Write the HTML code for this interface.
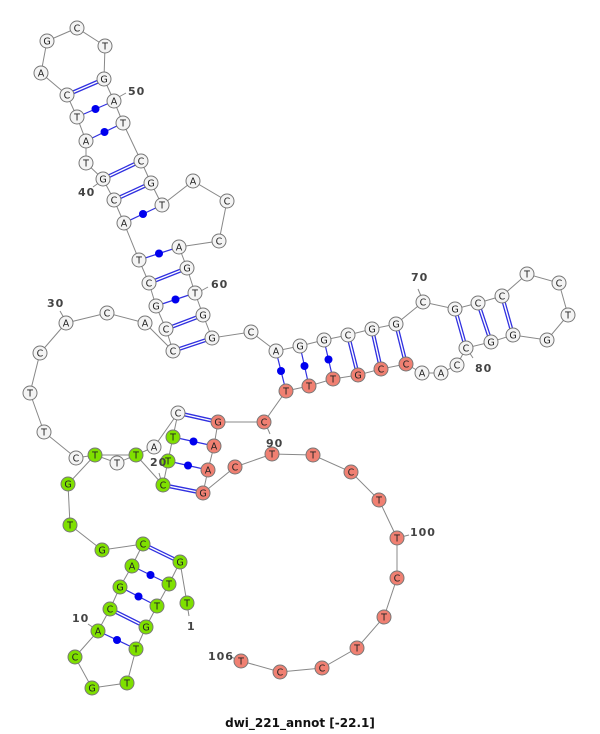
<!DOCTYPE html>
<html><head><meta charset="utf-8"><style>
html,body{margin:0;padding:0;background:#fff;}
svg{display:block;}
text{font-family:"DejaVu Sans","Liberation Sans",sans-serif;}
.n{font-size:9.5px;text-anchor:middle;fill:#222;}
.l{font-family:"Liberation Serif",serif;font-size:11px;font-weight:bold;fill:#444;letter-spacing:1px;}
</style></head><body>
<svg width="600" height="734" viewBox="0 0 600 734" xmlns="http://www.w3.org/2000/svg">
<g stroke="#888" stroke-width="1" fill="none">
<polyline points="187,603 180,562 169,584 157,606 146,627 136,649 127,683 92,688 75,657 98,631 110,609 120,587 132,566 143,544 102,550 70,525 68,484 95,455 136,455 163,485 168,461 173,437 178,413 154,447 136,455"/>
<polyline points="136,455 117,463 95,455 76,458 44,432 30,393 40,353 66,323 107,313 145,323 173,351 166,329 156,306 149,283 139,260 124,223 114,200 103,179 86,163 86,141 77,117 67,95 41,73 47,41 77,28 105,46 104,79 114,101 123,123 141,161 151,183 162,205 193,181 227,201 219,241 179,247 187,268 195,293 203,315 212,338 251,332 276,351 300,346 324,340 348,335 372,329 396,324 423,302 455,309 478,303 502,296 527,274 559,283 568,315 547,340 513,335 491,342 466,348 457,365 441,373 422,373 406,364 381,369 358,375 333,379 309,386 286,391 264,422 218,422 214,446 208,470 203,493 235,467 272,454 313,455 351,472 379,500 397,538 397,578 384,617 357,648 322,668 280,672 241,661"/>
<!-- label ticks -->
<line x1="117" y1="98" x2="126" y2="93"/>
<line x1="100" y1="182" x2="93" y2="187"/>
<line x1="199" y1="292" x2="208" y2="287"/>
<line x1="64" y1="318" x2="60" y2="311"/>
<line x1="421" y1="296" x2="418" y2="289"/>
<line x1="469" y1="352" x2="473" y2="358"/>
<line x1="267" y1="427" x2="270" y2="434"/>
<line x1="161" y1="480" x2="159" y2="473"/>
<line x1="401" y1="537" x2="409" y2="535"/>
<line x1="94" y1="628" x2="88" y2="624"/>
<line x1="188" y1="610" x2="189" y2="616"/>
<line x1="236" y1="659" x2="231" y2="657"/>
</g>
<!-- double pairs -->
<g stroke="#3030e0" stroke-width="4">
<line x1="180" y1="562" x2="143" y2="544"/><line x1="146" y1="627" x2="110" y2="609"/>
<line x1="163" y1="485" x2="203" y2="493"/><line x1="178" y1="413" x2="218" y2="422"/>
<line x1="173" y1="351" x2="212" y2="338"/><line x1="166" y1="329" x2="203" y2="315"/>
<line x1="149" y1="283" x2="187" y2="268"/><line x1="114" y1="200" x2="151" y2="183"/>
<line x1="103" y1="179" x2="141" y2="161"/><line x1="67" y1="95" x2="104" y2="79"/>
<line x1="348" y1="335" x2="358" y2="375"/><line x1="372" y1="329" x2="381" y2="369"/>
<line x1="396" y1="324" x2="406" y2="364"/><line x1="455" y1="309" x2="466" y2="348"/>
<line x1="478" y1="303" x2="491" y2="342"/><line x1="502" y1="296" x2="513" y2="335"/>
</g>
<g stroke="#fff" stroke-width="1.4">
<line x1="180" y1="562" x2="143" y2="544"/><line x1="146" y1="627" x2="110" y2="609"/>
<line x1="163" y1="485" x2="203" y2="493"/><line x1="178" y1="413" x2="218" y2="422"/>
<line x1="173" y1="351" x2="212" y2="338"/><line x1="166" y1="329" x2="203" y2="315"/>
<line x1="149" y1="283" x2="187" y2="268"/><line x1="114" y1="200" x2="151" y2="183"/>
<line x1="103" y1="179" x2="141" y2="161"/><line x1="67" y1="95" x2="104" y2="79"/>
<line x1="348" y1="335" x2="358" y2="375"/><line x1="372" y1="329" x2="381" y2="369"/>
<line x1="396" y1="324" x2="406" y2="364"/><line x1="455" y1="309" x2="466" y2="348"/>
<line x1="478" y1="303" x2="491" y2="342"/><line x1="502" y1="296" x2="513" y2="335"/>
</g>
<!-- GU/other pairs -->
<g stroke="#3030e0" stroke-width="1.2">
<line x1="169" y1="584" x2="132" y2="566"/><line x1="157" y1="606" x2="120" y2="587"/>
<line x1="136" y1="649" x2="98" y2="631"/>
<line x1="168" y1="461" x2="208" y2="470"/><line x1="173" y1="437" x2="214" y2="446"/>
<line x1="156" y1="306" x2="195" y2="293"/><line x1="139" y1="260" x2="179" y2="247"/>
<line x1="124" y1="223" x2="162" y2="205"/><line x1="86" y1="141" x2="123" y2="123"/>
<line x1="77" y1="117" x2="114" y2="101"/>
<line x1="276" y1="351" x2="286" y2="391"/><line x1="300" y1="346" x2="309" y2="386"/>
<line x1="324" y1="340" x2="333" y2="379"/>
</g>
<g fill="#0000ee">
<circle cx="150.5" cy="575" r="4"/><circle cx="138.5" cy="596.5" r="4"/><circle cx="117" cy="640" r="4"/>
<circle cx="188" cy="465.5" r="4"/><circle cx="193.5" cy="441.5" r="4"/>
<circle cx="175.5" cy="299.5" r="4"/><circle cx="159" cy="253.5" r="4"/>
<circle cx="143" cy="214" r="4"/><circle cx="104.5" cy="132" r="4"/><circle cx="95.5" cy="109" r="4"/>
<circle cx="281" cy="371" r="4"/><circle cx="304.5" cy="366" r="4"/><circle cx="328.5" cy="359.5" r="4"/>
</g>
<!-- nodes -->
<g stroke="#777" stroke-width="1">
<g fill="#7fe000">
<circle cx="187" cy="603" r="7"/><circle cx="180" cy="562" r="7"/><circle cx="169" cy="584" r="7"/><circle cx="157" cy="606" r="7"/><circle cx="146" cy="627" r="7"/><circle cx="136" cy="649" r="7"/><circle cx="127" cy="683" r="7"/><circle cx="92" cy="688" r="7"/><circle cx="75" cy="657" r="7"/><circle cx="98" cy="631" r="7"/><circle cx="110" cy="609" r="7"/><circle cx="120" cy="587" r="7"/><circle cx="132" cy="566" r="7"/><circle cx="143" cy="544" r="7"/><circle cx="102" cy="550" r="7"/><circle cx="70" cy="525" r="7"/><circle cx="68" cy="484" r="7"/><circle cx="95" cy="455" r="7"/><circle cx="136" cy="455" r="7"/><circle cx="163" cy="485" r="7"/><circle cx="168" cy="461" r="7"/><circle cx="173" cy="437" r="7"/>
</g>
<g fill="#f4f4f4">
<circle cx="178" cy="413" r="7"/><circle cx="154" cy="447" r="7"/><circle cx="117" cy="463" r="7"/><circle cx="76" cy="458" r="7"/><circle cx="44" cy="432" r="7"/><circle cx="30" cy="393" r="7"/><circle cx="40" cy="353" r="7"/><circle cx="66" cy="323" r="7"/><circle cx="107" cy="313" r="7"/><circle cx="145" cy="323" r="7"/><circle cx="173" cy="351" r="7"/><circle cx="166" cy="329" r="7"/><circle cx="156" cy="306" r="7"/><circle cx="149" cy="283" r="7"/><circle cx="139" cy="260" r="7"/><circle cx="124" cy="223" r="7"/><circle cx="114" cy="200" r="7"/><circle cx="103" cy="179" r="7"/><circle cx="86" cy="163" r="7"/><circle cx="86" cy="141" r="7"/><circle cx="77" cy="117" r="7"/><circle cx="67" cy="95" r="7"/><circle cx="41" cy="73" r="7"/><circle cx="47" cy="41" r="7"/><circle cx="77" cy="28" r="7"/><circle cx="105" cy="46" r="7"/><circle cx="104" cy="79" r="7"/><circle cx="114" cy="101" r="7"/><circle cx="123" cy="123" r="7"/><circle cx="141" cy="161" r="7"/><circle cx="151" cy="183" r="7"/><circle cx="162" cy="205" r="7"/><circle cx="193" cy="181" r="7"/><circle cx="227" cy="201" r="7"/><circle cx="219" cy="241" r="7"/><circle cx="179" cy="247" r="7"/><circle cx="187" cy="268" r="7"/><circle cx="195" cy="293" r="7"/><circle cx="203" cy="315" r="7"/><circle cx="212" cy="338" r="7"/><circle cx="251" cy="332" r="7"/><circle cx="276" cy="351" r="7"/><circle cx="300" cy="346" r="7"/><circle cx="324" cy="340" r="7"/><circle cx="348" cy="335" r="7"/><circle cx="372" cy="329" r="7"/><circle cx="396" cy="324" r="7"/><circle cx="423" cy="302" r="7"/><circle cx="455" cy="309" r="7"/><circle cx="478" cy="303" r="7"/><circle cx="502" cy="296" r="7"/><circle cx="527" cy="274" r="7"/><circle cx="559" cy="283" r="7"/><circle cx="568" cy="315" r="7"/><circle cx="547" cy="340" r="7"/><circle cx="513" cy="335" r="7"/><circle cx="491" cy="342" r="7"/><circle cx="466" cy="348" r="7"/><circle cx="457" cy="365" r="7"/><circle cx="441" cy="373" r="7"/><circle cx="422" cy="373" r="7"/>
</g>
<g fill="#f08072">
<circle cx="406" cy="364" r="7"/><circle cx="381" cy="369" r="7"/><circle cx="358" cy="375" r="7"/><circle cx="333" cy="379" r="7"/><circle cx="309" cy="386" r="7"/><circle cx="286" cy="391" r="7"/><circle cx="264" cy="422" r="7"/><circle cx="218" cy="422" r="7"/><circle cx="214" cy="446" r="7"/><circle cx="208" cy="470" r="7"/><circle cx="203" cy="493" r="7"/><circle cx="235" cy="467" r="7"/><circle cx="272" cy="454" r="7"/><circle cx="313" cy="455" r="7"/><circle cx="351" cy="472" r="7"/><circle cx="379" cy="500" r="7"/><circle cx="397" cy="538" r="7"/><circle cx="397" cy="578" r="7"/><circle cx="384" cy="617" r="7"/><circle cx="357" cy="648" r="7"/><circle cx="322" cy="668" r="7"/><circle cx="280" cy="672" r="7"/><circle cx="241" cy="661" r="7"/>
</g>
</g>
<g class="n" transform="translate(0,3.5)">
<text x="187" y="603">T</text><text x="180" y="562">G</text><text x="169" y="584">T</text><text x="157" y="606">T</text><text x="146" y="627">G</text><text x="136" y="649">T</text><text x="127" y="683">T</text><text x="92" y="688">G</text><text x="75" y="657">C</text><text x="98" y="631">A</text><text x="110" y="609">C</text><text x="120" y="587">G</text><text x="132" y="566">A</text><text x="143" y="544">C</text><text x="102" y="550">G</text><text x="70" y="525">T</text><text x="68" y="484">G</text><text x="95" y="455">T</text><text x="136" y="455">T</text><text x="163" y="485">C</text><text x="168" y="461">T</text><text x="173" y="437">T</text>
<text x="178" y="413">C</text><text x="154" y="447">A</text><text x="117" y="463">T</text><text x="76" y="458">C</text><text x="44" y="432">T</text><text x="30" y="393">T</text><text x="40" y="353">C</text><text x="66" y="323">A</text><text x="107" y="313">C</text><text x="145" y="323">A</text><text x="173" y="351">C</text><text x="166" y="329">C</text><text x="156" y="306">G</text><text x="149" y="283">C</text><text x="139" y="260">T</text><text x="124" y="223">A</text><text x="114" y="200">C</text><text x="103" y="179">G</text><text x="86" y="163">T</text><text x="86" y="141">A</text><text x="77" y="117">T</text><text x="67" y="95">C</text><text x="41" y="73">A</text><text x="47" y="41">G</text><text x="77" y="28">C</text><text x="105" y="46">T</text><text x="104" y="79">G</text><text x="114" y="101">A</text><text x="123" y="123">T</text><text x="141" y="161">C</text><text x="151" y="183">G</text><text x="162" y="205">T</text><text x="193" y="181">A</text><text x="227" y="201">C</text><text x="219" y="241">C</text><text x="179" y="247">A</text><text x="187" y="268">G</text><text x="195" y="293">T</text><text x="203" y="315">G</text><text x="212" y="338">G</text><text x="251" y="332">C</text><text x="276" y="351">A</text><text x="300" y="346">G</text><text x="324" y="340">G</text><text x="348" y="335">C</text><text x="372" y="329">G</text><text x="396" y="324">G</text><text x="423" y="302">C</text><text x="455" y="309">G</text><text x="478" y="303">C</text><text x="502" y="296">C</text><text x="527" y="274">T</text><text x="559" y="283">C</text><text x="568" y="315">T</text><text x="547" y="340">G</text><text x="513" y="335">G</text><text x="491" y="342">G</text><text x="466" y="348">C</text><text x="457" y="365">C</text><text x="441" y="373">A</text><text x="422" y="373">A</text>
<text x="406" y="364">C</text><text x="381" y="369">C</text><text x="358" y="375">G</text><text x="333" y="379">T</text><text x="309" y="386">T</text><text x="286" y="391">T</text><text x="264" y="422">C</text><text x="218" y="422">G</text><text x="214" y="446">A</text><text x="208" y="470">A</text><text x="203" y="493">G</text><text x="235" y="467">C</text><text x="272" y="454">T</text><text x="313" y="455">T</text><text x="351" y="472">C</text><text x="379" y="500">T</text><text x="397" y="538">T</text><text x="397" y="578">C</text><text x="384" y="617">T</text><text x="357" y="648">T</text><text x="322" y="668">C</text><text x="280" y="672">C</text><text x="241" y="661">T</text>
</g>
<g class="l">
<text x="128" y="95">50</text><text x="78" y="196">40</text><text x="211" y="288">60</text><text x="47" y="307">30</text><text x="411" y="281">70</text><text x="475" y="372">80</text><text x="266" y="447">90</text><text x="150" y="466">20</text><text x="410" y="536">100</text><text x="72" y="622">10</text><text x="187" y="630">1</text><text x="208" y="660">106</text>
</g>
<text x="300" y="727" text-anchor="middle" style="font-family:'DejaVu Sans','Liberation Sans',sans-serif;font-size:12px;font-weight:bold;fill:#111;">dwi_221_annot [-22.1]</text>
</svg>
</body></html>
